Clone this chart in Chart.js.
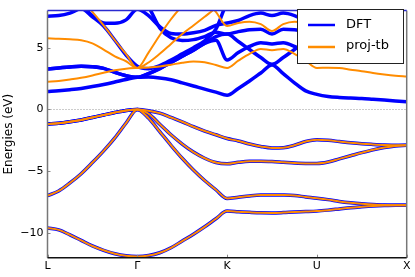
<!DOCTYPE html>
<html><head><meta charset="utf-8">
<script src="https://cdn.jsdelivr.net/npm/chart.js@4"></script>
<style>html,body{margin:0;padding:0;background:#fff}#w{width:415px;height:277px}</style>
</head><body><div id="w"><canvas id="c" width="415" height="277"></canvas></div>
<script>
// k-path positions (L=0, Γ=1, K=2, U=3, X=4), sampled every 0.125
const kpts = [0,0.125,0.25,0.375,0.5,0.625,0.75,0.875,1,1.125,1.25,1.375,1.5,1.625,1.75,1.875,2,2.125,2.25,2.375,2.5,2.625,2.75,2.875,3,3.125,3.25,3.375,3.5,3.625,3.75,3.875,4];
const tickPos = [0,1,2,3,4];
const tickLabels = ['L','Γ','K','U','X'];
const yTicks = [-10,-5,0,5];

// valence bands (DFT and proj-tb coincide)
const val1 = [-9.6,-9.75,-10.15,-10.6,-11.05,-11.4,-11.68,-11.85,-11.9, -11.83,-11.6,-11.2,-10.65,-10.1,-9.5,-8.85,-8.23, -8.28,-8.33,-8.37,-8.38,-8.35,-8.3,-8.27,-8.23, -8.15,-8.05,-7.95,-7.88,-7.82,-7.78,-7.76,-7.76];
const val2 = [-6.98,-6.6,-5.95,-5.2,-4.3,-3.35,-2.3,-1.1,0, -0.7,-1.8,-2.9,-3.95,-4.9,-5.75,-6.5,-7.2, -7.1,-7.0,-6.93,-6.92,-6.93,-6.97,-7.08,-7.18, -7.3,-7.45,-7.56,-7.64,-7.7,-7.73,-7.75,-7.76];
const val3 = [-1.18,-1.12,-1.0,-0.85,-0.65,-0.45,-0.25,-0.08,0, -0.35,-1.2,-2.05,-2.8,-3.45,-3.95,-4.3,-4.4, -4.28,-4.2,-4.19,-4.22,-4.28,-4.34,-4.37,-4.37, -4.25,-4.0,-3.75,-3.5,-3.27,-3.08,-2.95,-2.9];
const val4 = [-1.18,-1.12,-1.0,-0.85,-0.65,-0.45,-0.25,-0.08,0, -0.1,-0.3,-0.65,-1.0,-1.4,-1.75,-2.05,-2.35, -2.55,-2.8,-3.0,-3.12,-3.1,-2.9,-2.6,-2.45, -2.5,-2.6,-2.7,-2.78,-2.83,-2.87,-2.89,-2.9];

// DFT conduction bands
const dftA = [1.46,1.52,1.6,1.7,1.85,2.02,2.22,2.43,2.6, 2.62,2.55,2.4,2.15,1.9,1.64,1.4,1.15, 1.7,2.3,2.95,3.6,2.9,2.15,1.5,1.22, 1.05,0.97,0.92,0.88,0.82,0.76,0.69,0.63];
const dftB = [3.28,3.36,3.44,3.49,3.45,3.32,3.0,2.73,2.6, 2.9,3.3,3.8,4.3,4.8,5.35,5.6,4.0, 4.6,5.1,5.4,5.3,5.4,5.1,4.6,4.0, 4.4,4.9,5.5,6.1,6.8,7.5,8.2,8.9];
const dftC = [3.28,3.36,3.44,3.49,3.45,3.32,3.0,2.73,2.6, 2.9,3.3,3.8,4.3,4.8,5.35,5.9,6.1, 5.5,4.85,4.2,3.65,4.2,4.85,5.5,6.1, 6.5,7.0,7.6,8.2,8.8,9.4,10,10.5];
const dftD = [7.55,7.6,7.8,8.15,7.5,6.75,5.6,4.4,3.5, 3.3,3.55,4.0,4.5,5.0,5.55,6.5,8.6, 9.2,9.5,9.6,9.6,9.6,9.5,9.2,8.6, 9.0,9.4,9.8,10,10.2,10.3,10.4,10.4];
const dftE = [9.5,9.5,9.2,8.4,7.6,7.0,6.97,7.25,8.1, 7.6,6.7,6.15,6.1,6.2,6.4,6.8,7.0, 7.2,7.6,7.8,7.6,7.8,7.6,7.2,7.0, 7.3,7.6,8.0,8.4,8.8,9.2,9.6,10];
const dftF = [10,10,10,10,10,10,10,9.8,9.3, 8.3,6.6,5.8,5.58,5.65,5.9,6.25,6.1, 6.3,6.45,6.5,6.1,6.5,6.45,6.3,6.1, 6.6,7.2,7.8,8.4,9.0,9.6,10,10.4];

// proj-tb conduction bands
const tbA = [2.24,2.3,2.42,2.56,2.75,2.97,3.17,3.3,3.36, 3.4,3.48,3.62,3.78,3.88,3.82,3.6,3.36, 3.95,4.5,4.9,4.8,4.9,4.5,3.95,3.36, 3.38,3.35,3.22,3.1,2.95,2.83,2.73,2.66];
const tbB = [5.76,5.73,5.68,5.6,5.35,4.85,4.3,3.9,3.36, 3.8,4.5,5.3,6.1,6.8,7.5,8.2,8.8, 9.2,9.4,9.5,9.5,9.5,9.4,9.2,8.8, 9,9,9,9,9,9,9,9];
const tbC = [9.5,9.5,9.5,8.9,7.9,6.8,5.6,4.47,3.36, 4.6,6.0,7.3,8.4,9.5,10,10,10, 10,10,10,10,10,10,10,10, 10,10,10,10,10,10,10,10];
const tbD = [10,10,10,10,10,10,10,10,10, 10,10,10,10,9.5,8.8,7.9,6.75, 7.0,7.1,6.9,6.35,6.9,7.1,7.0,6.75, 7.0,7.4,7.8,8.2,8.6,9.0,9.4,9.8];

const blue = '#0000ff', orange = '#ff8c00';

function mk(vals, color, width) {
  return { data: kpts.map((k, i) => ({x: k, y: vals[i]})), borderColor: color, borderWidth: width,
    pointRadius: 0, fill: false, cubicInterpolationMode: 'monotone', borderCapStyle: 'butt', borderJoinStyle: 'round',
    clip: {left: 0, top: 0, right: 0, bottom: 0} };
}
// Chart.js paints the first dataset on top: proj-tb first, DFT below
const datasets = [];
[val1,val2,val3,val4,tbA,tbB,tbC,tbD].forEach(v => datasets.push(mk(v, orange, 2)));
[val1,val2,val3,val4,dftA,dftB,dftC,dftD,dftE,dftF].forEach(v => datasets.push(mk(v, blue, 3.5)));

const frame = {
  id: 'frame',
  beforeDatasetsDraw(chart) {
    const {ctx, chartArea: a, scales} = chart;
    const y0 = Math.round(scales.y.getPixelForValue(0)) + 0.5;
    ctx.save();
    ctx.strokeStyle = '#999'; ctx.lineWidth = 1; ctx.setLineDash([1, 2]);
    ctx.beginPath(); ctx.moveTo(a.left, y0); ctx.lineTo(a.right, y0); ctx.stroke();
    ctx.restore();
  },
  afterDatasetsDraw(chart) {
    const {ctx, chartArea: a, scales} = chart;
    ctx.save();
    ctx.strokeStyle = '#888'; ctx.lineWidth = 1;
    yTicks.forEach(t => { const p = Math.round(scales.y.getPixelForValue(t)) + 0.5;
      ctx.beginPath(); ctx.moveTo(a.left, p); ctx.lineTo(a.left + 3, p); ctx.stroke(); });
    tickPos.forEach(t => { const p = Math.round(scales.x.getPixelForValue(t)) + 0.5;
      ctx.beginPath(); ctx.moveTo(p, a.bottom); ctx.lineTo(p, a.bottom - 3); ctx.stroke(); });
    ctx.lineWidth = 1.5;
    ctx.strokeStyle = '#777';
    ctx.beginPath(); ctx.moveTo(a.left, a.top); ctx.lineTo(a.left, a.bottom); ctx.stroke();
    ctx.beginPath(); ctx.moveTo(a.right, a.top); ctx.lineTo(a.right, a.bottom); ctx.stroke();
    ctx.strokeStyle = '#111';
    ctx.beginPath(); ctx.moveTo(a.left, a.bottom); ctx.lineTo(a.right, a.bottom); ctx.stroke();
    ctx.strokeStyle = '#2a2ad0';
    ctx.beginPath(); ctx.moveTo(a.left, a.top); ctx.lineTo(a.right, a.top); ctx.stroke();
    const lx = 297, ly = 9, lw = 106, lh = 54;
    ctx.fillStyle = '#fff'; ctx.fillRect(lx, ly, lw, lh);
    ctx.strokeStyle = '#222'; ctx.lineWidth = 1; ctx.strokeRect(lx + 0.5, ly + 0.5, lw, lh);
    ctx.lineWidth = 2.5;
    ctx.strokeStyle = blue; ctx.beginPath(); ctx.moveTo(308, 25); ctx.lineTo(335, 25); ctx.stroke();
    ctx.strokeStyle = orange; ctx.beginPath(); ctx.moveTo(308, 47); ctx.lineTo(335, 47); ctx.stroke();
    ctx.fillStyle = '#000'; ctx.font = '13px "DejaVu Sans"'; ctx.textBaseline = 'middle';
    ctx.fillText('DFT', 346, 25); ctx.fillText('proj-tb', 346, 46);
    ctx.restore();
  }
};

new Chart(document.getElementById('c'), {
  type: 'line',
  data: { datasets },
  plugins: [frame],
  options: {
    responsive: false, animation: false, events: [],
    layout: { padding: { top: 1.5, right: 8.3, left: 0, bottom: 0 } },
    plugins: { legend: { display: false }, tooltip: { enabled: false } },
    scales: {
      x: { type: 'linear', min: 0, max: 4,
        afterFit(s) { s.height = 19.3; },
        afterBuildTicks(s) { s.ticks = tickPos.map(v => ({value: v})); },
        ticks: { callback: (v) => tickLabels[tickPos.indexOf(v)] ?? '', color: '#000', font: { family: 'DejaVu Sans', size: 11 }, padding: 2, maxRotation: 0, autoSkip: false },
        grid: { display: false, drawTicks: false }, border: { display: false } },
      y: { type: 'linear', min: -12, max: 8,
        afterFit(s) { s.width = 47.5; },
        afterBuildTicks(s) { s.ticks = yTicks.map(v => ({value: v})); },
        ticks: { callback: (v) => String(v).replace('-', '\u2212'), color: '#000', font: { family: 'DejaVu Sans', size: 11 }, padding: 4 },
        title: { display: true, text: 'Energies (eV)', color: '#000', font: { family: 'DejaVu Sans', size: 12 }, padding: 2 },
        grid: { display: false, drawTicks: false }, border: { display: false } }
    }
  }
});
</script></body></html>
